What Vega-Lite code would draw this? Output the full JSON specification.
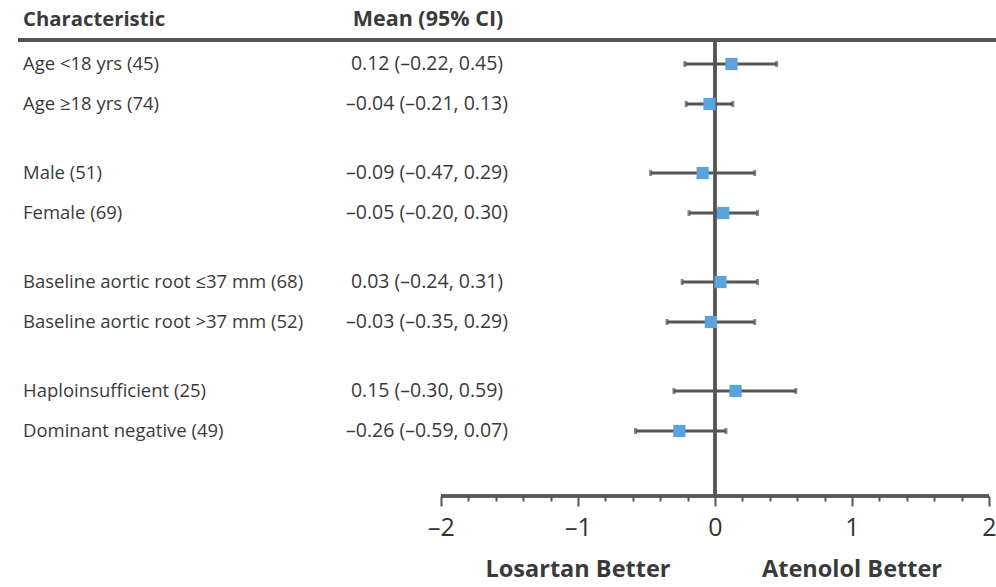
{
  "$schema": "https://vega.github.io/schema/vega-lite/v6.json",
  "width": 978,
  "height": 496,
  "autosize": {"type": "none"},
  "padding": {"left": 18, "top": 0, "right": 0, "bottom": 91},
  "background": "white",
  "config": {"view": {"stroke": null}, "font": "Open Sans"},
  "datasets": {
    "rows": [
      {"label": "Age <18 yrs (45)", "ci": "0.12 (–0.22, 0.45)", "mean": 0.12, "lo": -0.22, "hi": 0.45, "row": 1},
      {"label": "Age ≥18 yrs (74)", "ci": "–0.04 (–0.21, 0.13)", "mean": -0.04, "lo": -0.21, "hi": 0.13, "row": 2},
      {"label": "Male (51)", "ci": "–0.09 (–0.47, 0.29)", "mean": -0.09, "lo": -0.47, "hi": 0.29, "row": 3.725},
      {"label": "Female (69)", "ci": "–0.05 (–0.20, 0.30)", "mean": 0.06, "lo": -0.19, "hi": 0.31, "row": 4.725},
      {"label": "Baseline aortic root ≤37 mm (68)", "ci": "0.03 (–0.24, 0.31)", "mean": 0.04, "lo": -0.24, "hi": 0.31, "row": 6.45},
      {"label": "Baseline aortic root >37 mm (52)", "ci": "–0.03 (–0.35, 0.29)", "mean": -0.03, "lo": -0.35, "hi": 0.29, "row": 7.45},
      {"label": "Haploinsufficient (25)", "ci": "0.15 (–0.30, 0.59)", "mean": 0.15, "lo": -0.3, "hi": 0.59, "row": 9.175},
      {"label": "Dominant negative (49)", "ci": "–0.26 (–0.59, 0.07)", "mean": -0.26, "lo": -0.58, "hi": 0.08, "row": 10.175}
    ]
  },
  "data": {"name": "rows"},
  "layer": [
    {
      "mark": {"type": "rule", "stroke": "#555555", "strokeWidth": 2.5},
      "encoding": {
        "x": {
          "datum": 0, "type": "quantitative", "title": null,
          "scale": {"domain": [-5.0876, 2.0511], "nice": false, "zero": false},
          "axis": {
            "orient": "bottom",
            "values": [-2, -1.9, -1.8, -1.7, -1.6, -1.5, -1.4, -1.3, -1.2, -1.1, -1, -0.9, -0.8, -0.7, -0.6, -0.5, -0.4, -0.3, -0.2, -0.1, 0, 0.1, 0.2, 0.3, 0.4, 0.5, 0.6, 0.7, 0.8, 0.9, 1, 1.1, 1.2, 1.3, 1.4, 1.5, 1.6, 1.7, 1.8, 1.9, 2],
            "domain": false,
            "grid": false,
            "title": null,
            "tickColor": "#555555",
            "tickWidth": 2,
            "tickSize": {"condition": {"test": "abs(datum.value - round(datum.value)) < 0.001", "value": 10}, "value": 5},
            "labelExpr": "abs(datum.value - round(datum.value)) < 0.001 ? (datum.value < 0 ? '–' + abs(round(datum.value)) : '' + round(datum.value)) : ''",
            "labelFont": "Open Sans",
            "labelFontSize": 25,
            "labelColor": "#333333",
            "labelPadding": 9,
            "labelFlush": false,
            "labelOverlap": false
          }
        },
        "y": {"datum": 0.4, "type": "quantitative", "scale": {"domain": [-0.6, 11.8], "reverse": true, "nice": false, "zero": false}, "axis": null},
        "y2": {"datum": 11.8}
      }
    },
    {
      "mark": {"type": "rule", "stroke": "#555555", "strokeWidth": 3},
      "encoding": {
        "y": {"datum": 0.4, "type": "quantitative", "axis": null}
      }
    },
    {
      "mark": {"type": "rule", "stroke": "#555555", "strokeWidth": 2.5},
      "encoding": {
        "x": {"datum": -2, "type": "quantitative", "title": null},
        "x2": {"datum": 2},
        "y": {"datum": 11.8, "type": "quantitative", "axis": null}
      }
    },
    {
      "mark": {"type": "rule", "stroke": "#555555", "strokeWidth": 3},
      "encoding": {
        "x": {"field": "lo", "type": "quantitative", "title": null},
        "x2": {"field": "hi"},
        "y": {"field": "row", "type": "quantitative", "axis": null}
      }
    },
    {
      "mark": {"type": "tick", "orient": "vertical", "color": "#555555", "size": 6, "thickness": 3},
      "encoding": {
        "x": {"field": "lo", "type": "quantitative", "title": null},
        "y": {"field": "row", "type": "quantitative", "axis": null}
      }
    },
    {
      "mark": {"type": "tick", "orient": "vertical", "color": "#555555", "size": 6, "thickness": 3},
      "encoding": {
        "x": {"field": "hi", "type": "quantitative", "title": null},
        "y": {"field": "row", "type": "quantitative", "axis": null}
      }
    },
    {
      "mark": {"type": "point", "shape": "square", "filled": true, "size": 150, "color": "#5BA3DC", "opacity": 1},
      "encoding": {
        "x": {"field": "mean", "type": "quantitative", "title": null},
        "y": {"field": "row", "type": "quantitative", "axis": null}
      }
    },
    {
      "mark": {"type": "text", "align": "left", "baseline": "middle", "font": "Open Sans", "fontSize": 18.5, "color": "#3a3a3a"},
      "encoding": {
        "x": {"datum": -5.051, "type": "quantitative", "title": null},
        "y": {"field": "row", "type": "quantitative", "axis": null},
        "text": {"field": "label"}
      }
    },
    {
      "mark": {"type": "text", "align": "center", "baseline": "middle", "font": "Open Sans", "fontSize": 19.5, "color": "#3a3a3a"},
      "encoding": {
        "x": {"datum": -2.102, "type": "quantitative", "title": null},
        "y": {"field": "row", "type": "quantitative", "axis": null},
        "text": {"field": "ci"}
      }
    },
    {
      "data": {"values": [{"head": "Characteristic"}]},
      "mark": {"type": "text", "align": "left", "baseline": "middle", "font": "Open Sans", "fontSize": 20.3, "fontWeight": "bold", "color": "#3a3a3a"},
      "encoding": {
        "x": {"datum": -5.051, "type": "quantitative", "title": null},
        "y": {"datum": -0.1, "type": "quantitative", "axis": null},
        "text": {"field": "head"}
      }
    },
    {
      "data": {"values": [{"head": "Mean (95% CI)"}]},
      "mark": {"type": "text", "align": "center", "baseline": "middle", "font": "Open Sans", "fontSize": 21.5, "fontWeight": "bold", "color": "#3a3a3a"},
      "encoding": {
        "x": {"datum": -2.095, "type": "quantitative", "title": null},
        "y": {"datum": -0.1, "type": "quantitative", "axis": null},
        "text": {"field": "head"}
      }
    },
    {
      "data": {"values": [{"side": "Losartan Better", "pos": -1}, {"side": "Atenolol Better", "pos": 1}]},
      "mark": {"type": "text", "align": "center", "baseline": "middle", "font": "Open Sans", "fontSize": 23.5, "fontWeight": "bold", "color": "#3a3a3a"},
      "encoding": {
        "x": {"field": "pos", "type": "quantitative", "title": null},
        "y": {"datum": 13.65, "type": "quantitative", "axis": null},
        "text": {"field": "side"}
      }
    }
  ]
}
